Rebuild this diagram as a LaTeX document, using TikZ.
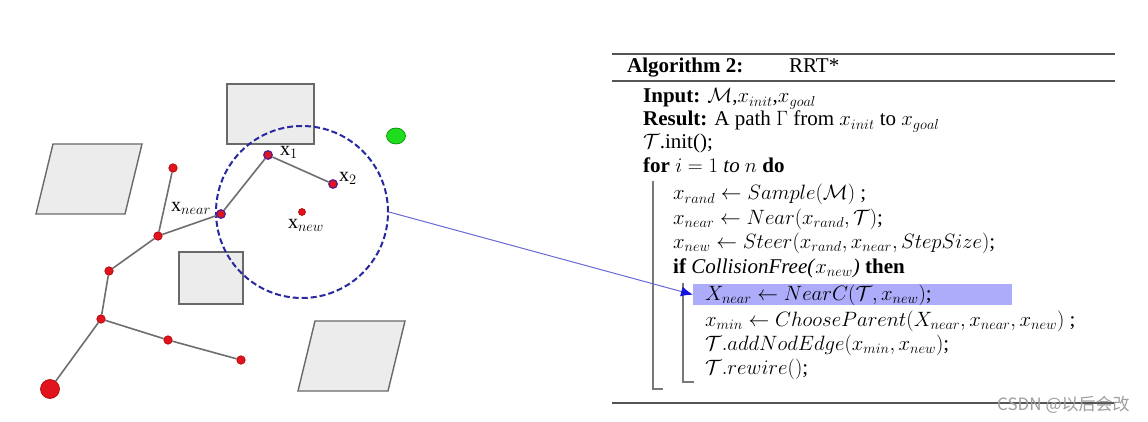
\documentclass[tikz,border=0pt]{standalone}
\usepackage{fontspec}
\setmainfont{Liberation Serif}
\newfontfamily\cjk{Noto Sans CJK SC}
\usetikzlibrary{arrows.meta,shapes.geometric}
\definecolor{obsfill}{RGB}{236,236,236}
\definecolor{obsdraw}{RGB}{105,105,105}
\definecolor{edgegray}{RGB}{110,110,110}
\definecolor{dotred}{RGB}{225,20,30}
\definecolor{dotdark}{RGB}{170,0,0}
\definecolor{dotpurple}{RGB}{90,30,140}
\definecolor{circblue}{RGB}{40,40,160}
\definecolor{connblue}{RGB}{105,105,215}
\definecolor{arrowblue}{RGB}{20,20,225}
\definecolor{hlblue}{RGB}{172,172,250}
\definecolor{rulegray}{RGB}{85,85,85}
\definecolor{bargray}{RGB}{120,120,120}
\definecolor{goalgreen}{RGB}{30,220,30}
\tikzset{
  obstacle/.style={fill=obsfill,draw=obsdraw,line width=1.4pt},
  dot/.style={circle,fill=dotred,draw=dotdark,line width=0.6pt,minimum size=8.5pt,inner sep=0pt},
  pdot/.style={dot,draw=dotpurple,line width=1.3pt},
  treeedge/.style={draw=edgegray,line width=1.6pt},
  lbl/.style={inner sep=0pt,font=\fontsize{20}{24}\selectfont},
  alg/.style={anchor=west,inner sep=0pt,text height=15pt,text depth=5pt,font=\fontsize{21}{25}\selectfont},
  rulel/.style={draw=rulegray,line width=1.8pt},
  bar/.style={draw=bargray,line width=1.2pt},
}
\begin{document}
\begin{tikzpicture}[x=1pt,y=-1pt]
\path[use as bounding box,fill=white] (0,0) rectangle (1148,422);
% obstacles
\draw[obstacle] (227,84) rectangle (314,144);
\draw[obstacle] (53,144) -- (142,144) -- (125,214) -- (36,214) -- cycle;
\draw[obstacle] (179,252) rectangle (243,304);
\draw[obstacle] (315,321) -- (405,321) -- (388,391) -- (298,391) -- cycle;
% goal
\node[ellipse,fill=goalgreen,draw=green!50!black,line width=0.6pt,minimum width=19pt,minimum height=16pt,inner sep=0pt] (goal) at (396,136) {};
% neighbourhood circle
\node[circle,draw=circblue,line width=2pt,dash pattern=on 6pt off 3pt,minimum size=172pt,inner sep=0pt] (nbhd) at (302,212) {};
% tree nodes
\node[dot,minimum size=19pt] (root) at (50,389) {};
\node[dot] (a) at (101,319) {};
\node[dot] (b) at (109,271) {};
\node[dot] (c) at (158,236) {};
\node[dot] (d) at (173,168) {};
\node[dot] (e) at (168,340) {};
\node[dot] (f) at (241,360) {};
\node[pdot] (xnear) at (221,214) {};
\node[pdot] (x1) at (268,155) {};
\node[pdot] (x2) at (333,184) {};
\node[dot,minimum size=7pt] (xnew) at (302,212) {};
% tree edges
\path[treeedge] (root) -- (a) (a) -- (b) (b) -- (c) (c) -- (d) (c) -- (xnear)
  (xnear) -- (x1) (x1) -- (x2) (a) -- (e) (e) -- (f);
% labels
\node[lbl] (lx1) at (289,152) {$\mathrm{x}_1$};
\node[lbl] (lx2) at (348,178) {$\mathrm{x}_2$};
\node[lbl] (lxnear) at (191,208) {$\mathrm{x}_{near}$};
\node[lbl] (lxnew) at (306,225) {$\mathrm{x}_{new}$};
% algorithm box
\coordinate (r1a) at (612,54); \coordinate (r1b) at (1115,54);
\coordinate (r2a) at (612,81); \coordinate (r2b) at (1115,81);
\coordinate (r3a) at (612,403); \coordinate (r3b) at (1115,403);
\path[rulel] (r1a) -- (r1b) (r2a) -- (r2b) (r3a) -- (r3b);
\node[alg] (title) at (627,68) {\textbf{Algorithm 2:}};
\node[alg] (name) at (789,68) {RRT*};
\node[alg] (l1) at (643,98) {\textbf{Input:} $\mathcal{M}$,$x_{init}$,$x_{goal}$};
\node[alg] (l2) at (643,121) {\textbf{Result:} A path $\Gamma$ from $x_{init}$ to $x_{goal}$};
\node[alg] (l3) at (643,144) {$\mathcal{T}$.init();};
\node[alg] (l4) at (643,168) {\textbf{for} $i=1$ \textit{to} $n$ \textbf{do}};
\node[alg] (l5) at (673,195) {$x_{rand}\leftarrow Sample(\mathcal{M})$ ;};
\node[alg] (l6) at (673,219) {$x_{near}\leftarrow Near(x_{rand},\mathcal{T})$;};
\node[alg] (l7) at (673,243) {$x_{new}\leftarrow Steer(x_{rand},x_{near},StepSize)$;};
\node[alg] (l8) at (673,268) {\textbf{if} \textit{CollisionFree(}$x_{new}$\textit{)} \textbf{then}};
\node[fill=hlblue,anchor=north west,inner sep=0pt,minimum width=319pt,minimum height=21pt] (hl) at (693,284) {};
\node[alg] (l9) at (705,295) {$X_{near}\leftarrow NearC(\mathcal{T},x_{new})$;};
\node[alg] (l10) at (705,321) {$x_{min}\leftarrow ChooseParent(X_{near},x_{near},x_{new})$ ;};
\node[alg] (l11) at (705,345) {$\mathcal{T}.addNodEdge(x_{min},x_{new})$;};
\node[alg] (l12) at (705,369) {$\mathcal{T}.rewire()$;};
% block bars
\coordinate (ob1) at (653,181); \coordinate (ob2) at (653,389); \coordinate (ob3) at (663,389);
\coordinate (ib1) at (683,283); \coordinate (ib2) at (683,382); \coordinate (ib3) at (694,382);
\path[bar] (ob1) -- (ob2) -- (ob3) (ib1) -- (ib2) -- (ib3);
% connector
\draw[connblue,line width=1pt,-{Latex[length=12pt,width=10pt,color=arrowblue]}] (nbhd.east) -- (hl.west);
% watermark
\node[inner sep=0pt,anchor=west,text=gray!75,font=\cjk\fontsize{17}{20}\selectfont] (wm) at (997,405) {CSDN @以后会改};
\end{tikzpicture}
\end{document}
